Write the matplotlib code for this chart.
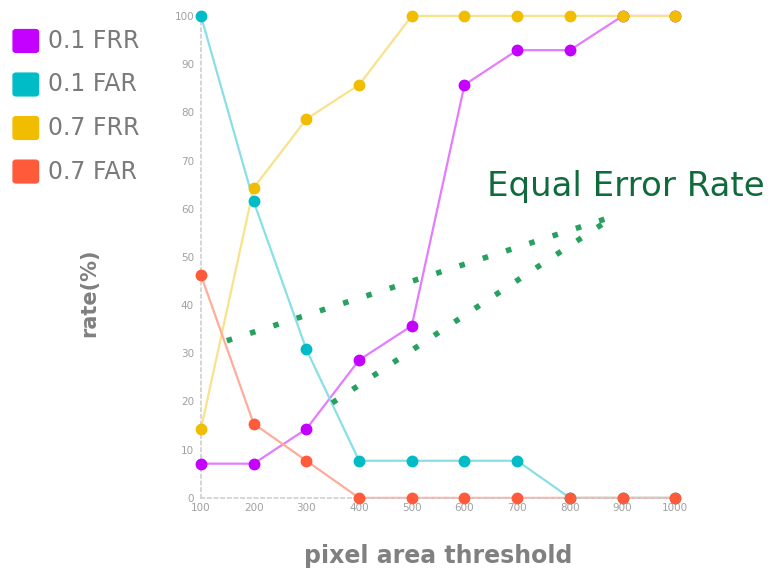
import matplotlib.pyplot as plt
from matplotlib.patches import FancyBboxPatch

# data
thresholds = [100, 200, 300, 400, 500, 600, 700, 800, 900, 1000]
frr_01 = [7.1, 7.1, 14.3, 28.6, 35.7, 85.7, 92.9, 92.9, 100, 100]
far_01 = [100, 61.5, 30.8, 7.7, 7.7, 7.7, 7.7, 0, 0, 0]
frr_07 = [14.3, 64.3, 78.6, 85.7, 100, 100, 100, 100, 100, 100]
far_07 = [46.2, 15.4, 7.7, 0, 0, 0, 0, 0, 0, 0]

labels = ["0.1 FRR", "0.1 FAR", "0.7 FRR", "0.7 FAR"]
marker_colors = ["#c400ff", "#00bcc6", "#f0bd00", "#ff5a3a"]
line_colors = ["#e47cff", "#88e0e6", "#f8e28a", "#ffac9a"]

# dotted arrows pointing at the crossings
eer_tip = (885, 58.5)
eer_tails = [(149, 32.6), (349, 19.7)]

fig = plt.figure(figsize=(7.7, 5.69), dpi=100)
ax = fig.add_axes([0.261, 0.125, 0.616, 0.847])

series = [frr_01, far_01, frr_07, far_07]
for vals, mc, lc in zip(series, marker_colors, line_colors):
    ax.plot(thresholds, vals, color=lc, lw=1.6, zorder=2, clip_on=False)
    ax.plot(thresholds, vals, ls="none", marker="o", ms=7.5,
            color=mc, zorder=3, clip_on=False)

for tx, ty in eer_tails:
    ax.plot([tx, eer_tip[0]], [ty, eer_tip[1]], ls=(0, (1, 3.4)), lw=4,
            color="#27a060", zorder=4)

ax.set_xlim(100, 1000)
ax.set_ylim(0, 100)
ax.set_xticks(thresholds)
ax.set_yticks(range(0, 101, 10))
ax.tick_params(length=0, labelsize=7.5, labelcolor="#a0a0a0")
ax.tick_params(axis="y", pad=5)
ax.tick_params(axis="x", pad=4)
for s in ["top", "right"]:
    ax.spines[s].set_visible(False)
for s in ["left", "bottom"]:
    ax.spines[s].set_linestyle((0, (2, 2)))
    ax.spines[s].set_color("#d0d0d0")
    ax.spines[s].set_linewidth(1.2)

ax.set_xlabel("pixel area threshold", fontsize=17, fontweight="bold",
              color="#808080", labelpad=22)
ax.set_ylabel("rate(%)", fontsize=15, fontweight="bold", color="#808080")
ax.yaxis.set_label_coords(-0.215, 0.425)

fig.text(0.632, 0.672, "Equal Error Rate", fontsize=24.5, color="#0f6b3c",
         va="center", ha="left")

# legend in the upper left
for i, (lab, mc) in enumerate(zip(labels, marker_colors)):
    yc = 0.928 - i * 0.0765
    sq = FancyBboxPatch((0.017, yc - 0.02), 0.033, 0.04,
                        boxstyle="round,pad=0,rounding_size=0.004",
                        transform=fig.transFigure, color=mc)
    fig.patches.append(sq)
    fig.text(0.062, yc, lab, fontsize=17, color="#7a7a7a", va="center")

fig.savefig("out.png", dpi=100)
